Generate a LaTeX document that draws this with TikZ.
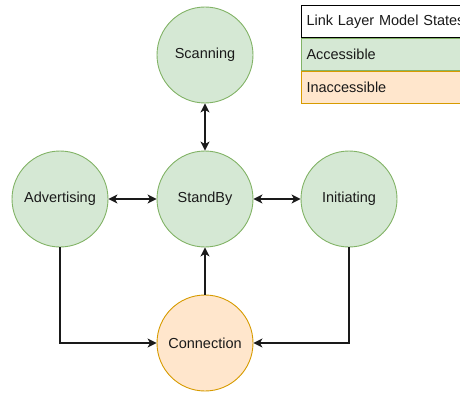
\documentclass[tikz,border=0pt]{standalone}
\usepackage{fontspec}
\setmainfont{Liberation Sans}
\usetikzlibrary{arrows.meta}
\definecolor{stateink}{HTML}{1A1A1A}
\definecolor{okfill}{HTML}{D5E8D4}
\definecolor{okline}{HTML}{82B366}
\definecolor{nofill}{HTML}{FFE6CC}
\definecolor{noline}{HTML}{D79B00}

\begin{document}
\begin{tikzpicture}[
  x=1pt,
  y=-1pt,
  every node/.style={font=\fontsize{14.5}{17}\selectfont, text=stateink},
  state/.style={circle, minimum size=96pt, inner sep=0pt, line width=0.9pt},
  okstate/.style={state, draw=okline, fill=okfill},
  nostate/.style={state, draw=noline, fill=nofill},
  legrow/.style={rectangle, minimum width=162pt, minimum height=32pt,
    anchor=north west, text width=152pt, align=left, line width=1pt},
  link/.style={stateink, line width=1.2pt, -{Stealth[length=9pt,width=9pt,inset=2.5pt]}},
  twoway/.style={link, {Stealth[length=9pt,width=9pt,inset=2.5pt]}-{Stealth[length=9pt,width=9pt,inset=2.5pt]}}
]
  \clip (0,0) rectangle (460,393);

  \node[okstate] (scan) at (205,55) {Scanning};
  \node[okstate] (standby) at (205,199) {StandBy};
  \node[okstate] (adv) at (60,199) {Advertising};
  \node[okstate] (init) at (349,199) {Initiating};
  \node[nostate] (conn) at (205,343) {Connection};

  \draw[twoway] (scan) -- (standby);
  \draw[twoway] (adv) -- (standby);
  \draw[twoway] (standby) -- (init);
  \draw[link] (conn) -- (standby);
  \draw[link] (adv.south) |- (conn.west);
  \draw[link] (init.south) |- (conn.east);

  % legend
  \node[legrow, draw=black, fill=white] (legtitle) at (301,5)
    {\mbox{Link Layer Model States}};
  \node[legrow, draw=okline, fill=okfill] (legok) at (legtitle.south west) {Accessible};
  \node[legrow, draw=noline, fill=nofill] (legno) at (legok.south west) {Inaccessible};
\end{tikzpicture}
\end{document}
